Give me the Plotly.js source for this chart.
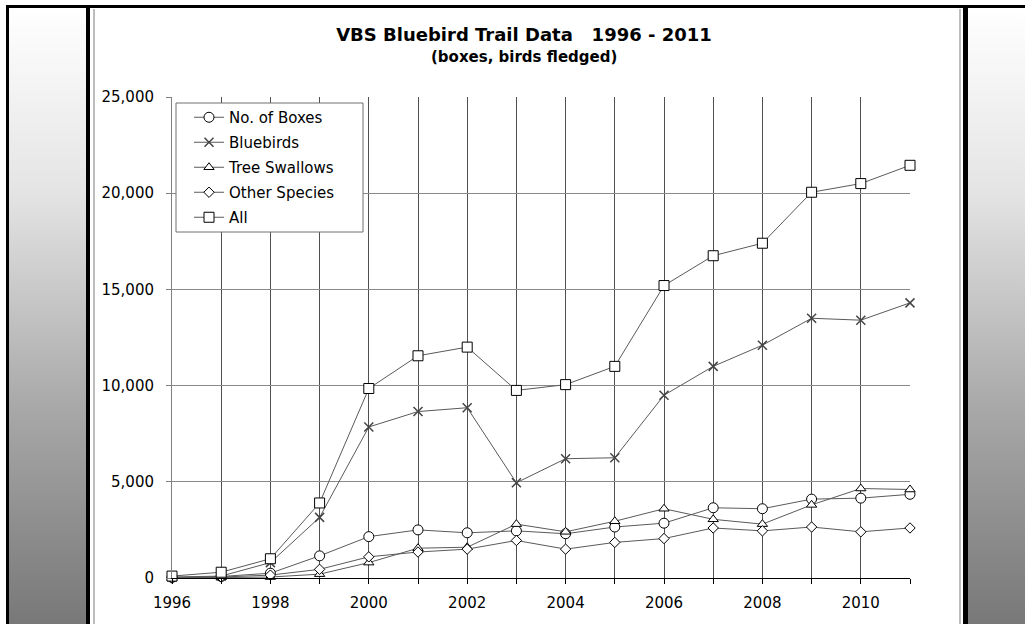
<!DOCTYPE html>
<html>
<head>
<meta charset="utf-8">
<script src="https://cdn.plot.ly/plotly-3.0.1.min.js"></script>
<style>
  html, body { margin: 0; padding: 0; width: 1025px; height: 624px; overflow: hidden; background: #ffffff; }
  .blk { position: absolute; background: #000; }
  .grad { position: absolute; background: linear-gradient(to bottom, #ffffff 0%, #e4e4e4 30%, #a8a8a8 65%, #787878 100%); }
  .thin { position: absolute; background: #bdbdbd; }
  #chart { position: absolute; left: 0; top: 0; width: 1025px; height: 624px; }
</style>
</head>
<body>
<div class="blk" style="left:6px; top:5px; width:1019px; height:3px;"></div>
<div class="blk" style="left:6px; top:5px; width:3px; height:619px;"></div>
<div class="grad" style="left:9px; top:8px; width:77px; height:616px;"></div>
<div class="blk" style="left:86px; top:5px; width:4px; height:619px;"></div>
<div class="thin" style="left:93px; top:9px; width:2px; height:615px;"></div>
<div class="thin" style="left:959px; top:9px; width:2px; height:615px;"></div>
<div class="blk" style="left:963px; top:5px; width:5px; height:619px;"></div>
<div class="grad" style="left:968px; top:8px; width:57px; height:616px;"></div>
<div id="chart"></div>
<script>
const years = [1996,1997,1998,1999,2000,2001,2002,2003,2004,2005,2006,2007,2008,2009,2010,2011];
const boxes = [30,80,250,1150,2150,2500,2350,2450,2300,2650,2850,3650,3600,4100,4150,4350];
const bluebirds = [50,100,800,3150,7850,8650,8850,4950,6200,6250,9500,11000,12100,13500,13400,14300];
const treeSwallows = [0,30,50,200,800,1550,1600,2800,2400,2950,3600,3050,2800,3800,4650,4600];
const otherSpecies = [0,50,150,450,1100,1350,1500,1950,1500,1850,2050,2600,2450,2650,2400,2600];
const allBirds = [100,300,1000,3900,9850,11550,12000,9750,10050,11000,15200,16750,17400,20050,20500,21450];
const seriesNames = ['No. of Boxes','Bluebirds','Tree Swallows','Other Species','All'];
const xTickLabels = ['1996','','1998','','2000','','2002','','2004','','2006','','2008','','2010',''];
const yTickVals = [0,5000,10000,15000,20000,25000];
const yTickLabels = ['0','5,000','10,000','15,000','20,000','25,000'];
const titleLine1 = 'VBS Bluebird Trail Data&nbsp;&nbsp;&nbsp;1996 - 2011';
const titleLine2 = '(boxes, birds fledged)';

const lineStyle = {color:'#5a5a5a', width:1};
function tr(y, name, symbol, size, mcolor, lw, grp){
  return {
    x: years, y: y, name: name, type:'scatter', mode:'lines+markers',
    line: lineStyle, legendgroup: grp,
    marker: {symbol: symbol, size: size, color: mcolor, line:{color: symbol.indexOf('x')===0 ? '#444' : '#000', width: lw}},
    cliponaxis: false
  };
}
const data = [
  tr(boxes, seriesNames[0], 'circle', 10, '#ffffff', 1, 'g1'),
  tr(bluebirds, seriesNames[1], 'x-thin-open', 9, '#444', 1.5, 'g2'),
  tr(treeSwallows, seriesNames[2], 'triangle-up', 9, '#ffffff', 1, 'g3'),
  tr(otherSpecies, seriesNames[3], 'diamond', 8, '#ffffff', 1, 'g4'),
  tr(allBirds, seriesNames[4], 'square', 10, '#ffffff', 1, 'g5')
];

const L = 172, R = 910, T = 97, B = 578;
const W = R - L, H = B - T;
function px(x){ return (x - L) / W; }
function py(y){ return (B - y) / H; }
const tickFont = {family: 'DejaVu Sans, sans-serif', size: 15, color: '#000'};

const layout = {
  width: 1025, height: 624,
  margin: {l: L, r: 1025 - R, t: T, b: 624 - B, pad: 0},
  paper_bgcolor: 'rgba(0,0,0,0)',
  plot_bgcolor: '#ffffff',
  font: {family: 'DejaVu Sans, sans-serif', size: 12, color: '#000'},
  title: {
    text: '<b>' + titleLine1 + '</b>',
    font: {family: 'DejaVu Sans, sans-serif', size: 18, color: '#000'},
    xref: 'container', x: 524/1025, xanchor: 'center',
    yref: 'container', y: 1 - 35/624, yanchor: 'middle'
  },
  annotations: [{
    text: '<b>' + titleLine2 + '</b>', showarrow: false,
    xref: 'paper', yref: 'paper', x: px(524), y: py(57), xanchor: 'center', yanchor: 'middle',
    font: {family: 'DejaVu Sans, sans-serif', size: 15, color: '#000'}
  }],
  xaxis: {
    range: [1996, 2011],
    tickvals: years, ticktext: xTickLabels,
    ticks: 'outside', ticklen: 5, tickcolor: '#000', tickwidth: 1,
    ticklabelstandoff: 6,
    showgrid: true, gridcolor: '#505050', gridwidth: 1,
    showline: true, linecolor: '#000', linewidth: 1,
    zeroline: false, fixedrange: true,
    tickfont: tickFont
  },
  yaxis: {
    range: [0, 25000],
    tickvals: yTickVals, ticktext: yTickLabels,
    ticks: 'outside', ticklen: 5, tickcolor: '#808080', tickwidth: 1,
    ticklabelstandoff: 9,
    showgrid: true, gridcolor: '#8a8a8a', gridwidth: 1,
    showline: true, linecolor: '#808080', linewidth: 1,
    zeroline: false, fixedrange: true,
    tickfont: tickFont
  },
  shapes: [{
    type: 'rect', xref: 'paper', yref: 'paper', layer: 'above',
    x0: px(176), x1: px(363), y0: py(232), y1: py(103),
    fillcolor: '#ffffff', line: {color: '#707070', width: 1}
  }],
  showlegend: true,
  legend: {
    x: px(189), xanchor: 'left', y: py(101), yanchor: 'top',
    bgcolor: 'rgba(0,0,0,0)', borderwidth: 0,
    traceorder: 'grouped', tracegroupgap: 2.5, itemwidth: 30,
    font: {family: 'DejaVu Sans, sans-serif', size: 15, color: '#000'}
  }
};
Plotly.newPlot('chart', data, layout, {displayModeBar: false, staticPlot: true});
</script>
</body>
</html>
